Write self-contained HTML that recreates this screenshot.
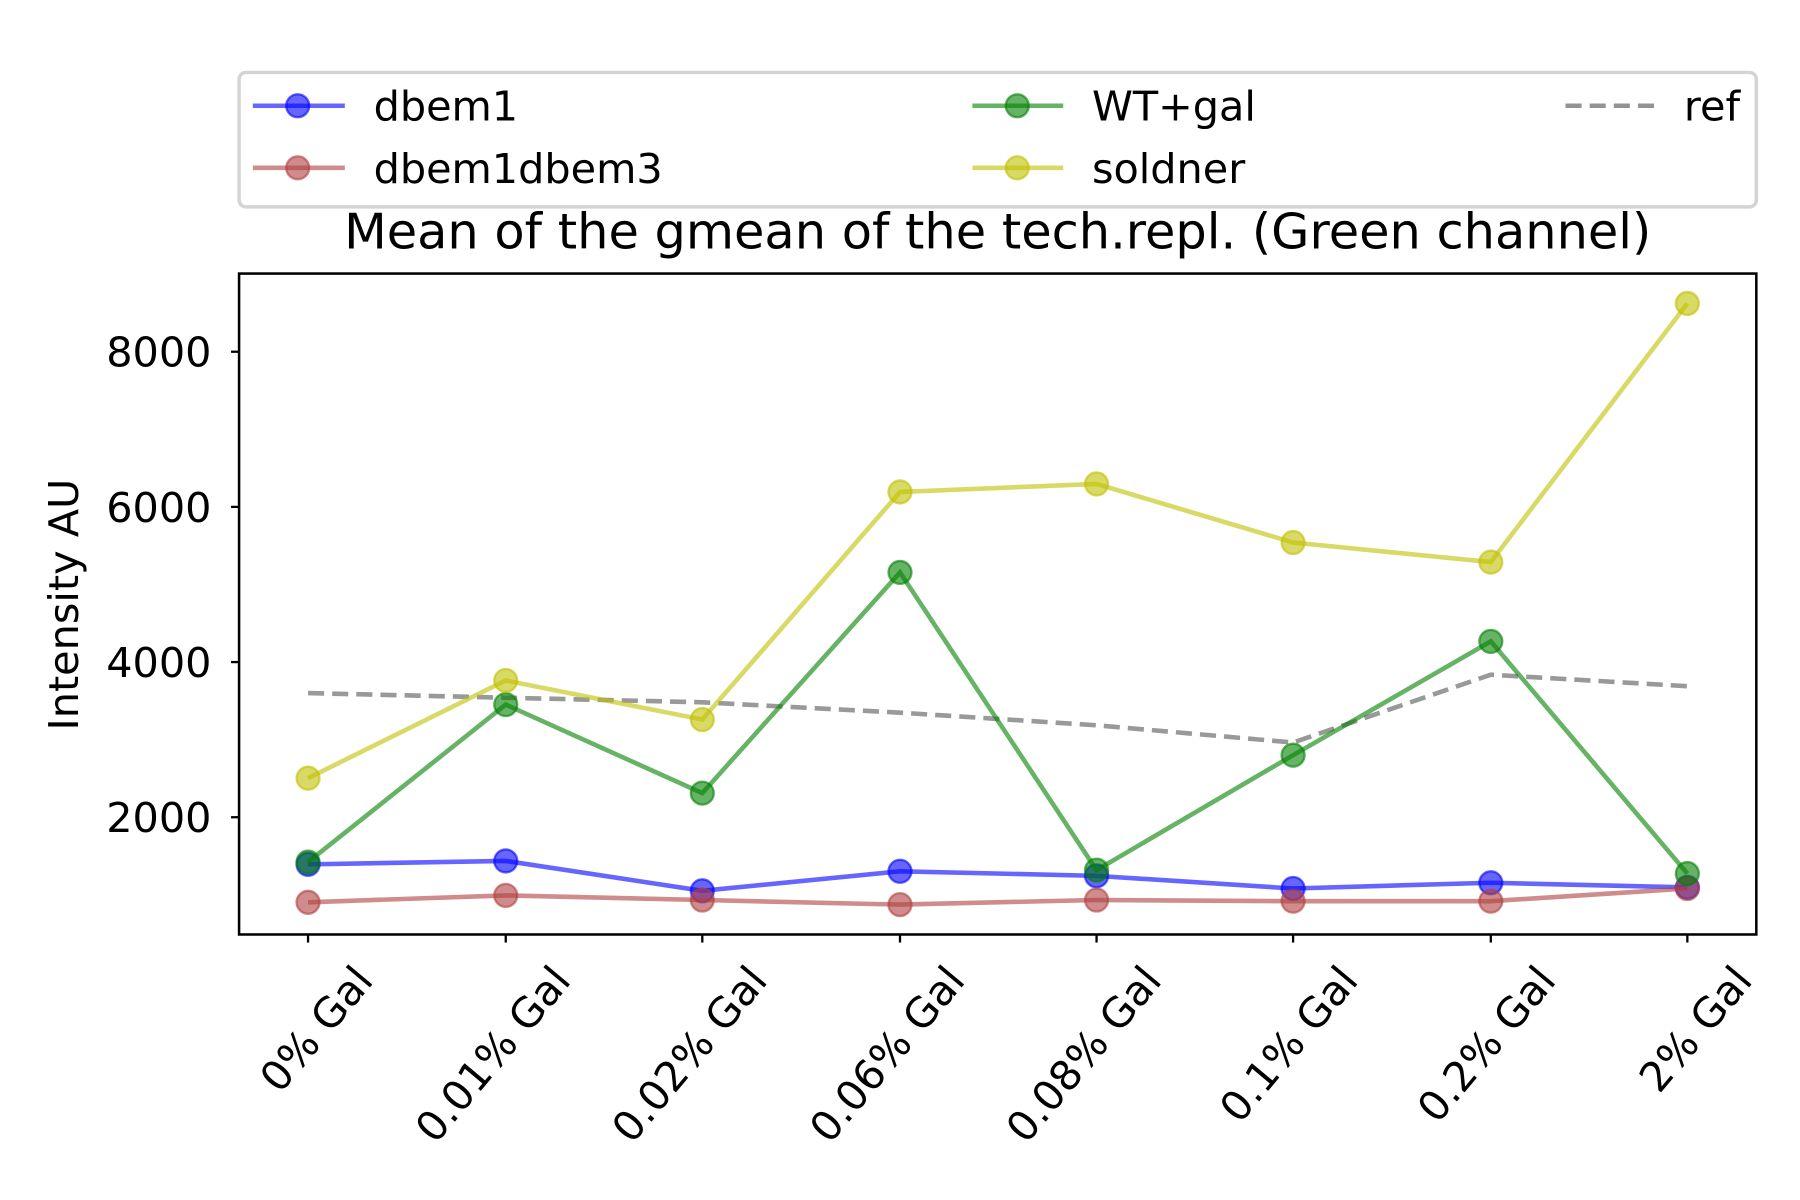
<!DOCTYPE html>
<html><head><style>html,body{margin:0;padding:0;background:#fff}svg{display:block}</style></head>
<body>
<svg width="1800" height="1200" viewBox="0 0 1566 1044" xmlns="http://www.w3.org/2000/svg" font-family="DejaVu Sans, Liberation Sans, sans-serif">
<rect width="1566" height="1044" fill="#fff"/>
<rect x="208" y="63" width="1320" height="117" rx="6" fill="#fff" stroke="#d4d4d4" stroke-width="3"/>
<g stroke-width="4" fill-opacity="0.6" stroke-opacity="0.6">
<line x1="220" y1="92" x2="300" y2="92" stroke="#0000ff"/><circle cx="259" cy="92" r="10" fill="#0000ff" stroke="#0000ff" stroke-width="2"/>
<line x1="220" y1="146" x2="300" y2="146" stroke="#b04040"/><circle cx="259" cy="146" r="10" fill="#b04040" stroke="#b04040" stroke-width="2"/>
<line x1="846" y1="92" x2="925" y2="92" stroke="#008000"/><circle cx="885" cy="92" r="10" fill="#008000" stroke="#008000" stroke-width="2"/>
<line x1="846" y1="146" x2="925" y2="146" stroke="#bfbf00"/><circle cx="885" cy="146" r="10" fill="#bfbf00" stroke="#bfbf00" stroke-width="2"/>
<line x1="1362" y1="92" x2="1440" y2="92" stroke="#808080" stroke-dasharray="14,7" stroke-opacity="0.85"/>
</g>
<g font-size="36" fill="#000">
<text x="325" y="105">dbem1</text>
<text x="325" y="159">dbem1dbem3</text>
<text x="950" y="105">WT+gal</text>
<text x="950" y="159">soldner</text>
<text x="1465" y="105">ref</text>
</g>
<text x="868" y="216" font-size="43" text-anchor="middle">Mean of the gmean of the tech.repl. (Green channel)</text>
<rect x="208" y="238" width="1320" height="575" fill="none" stroke="#000" stroke-width="2.2"/>
<g stroke="#000" stroke-width="2">
<line x1="201" y1="306" x2="208" y2="306"/><line x1="201" y1="441" x2="208" y2="441"/><line x1="201" y1="576" x2="208" y2="576"/><line x1="201" y1="711" x2="208" y2="711"/>
<line x1="268" y1="813" x2="268" y2="820"/><line x1="440" y1="813" x2="440" y2="820"/><line x1="611" y1="813" x2="611" y2="820"/><line x1="783" y1="813" x2="783" y2="820"/><line x1="954" y1="813" x2="954" y2="820"/><line x1="1125" y1="813" x2="1125" y2="820"/><line x1="1297" y1="813" x2="1297" y2="820"/><line x1="1468" y1="813" x2="1468" y2="820"/>
</g>
<g font-size="36" text-anchor="end">
<text x="184" y="319">8000</text><text x="184" y="454">6000</text><text x="184" y="589">4000</text><text x="184" y="724">2000</text>
</g>
<text transform="translate(68,526) rotate(-90)" font-size="36" text-anchor="middle">Intensity AU</text>
<g font-size="36" text-anchor="end">
<text transform="translate(326,854) rotate(-50)">0% Gal</text>
<text transform="translate(498,854) rotate(-50)">0.01% Gal</text>
<text transform="translate(669,854) rotate(-50)">0.02% Gal</text>
<text transform="translate(841,854) rotate(-50)">0.06% Gal</text>
<text transform="translate(1012,854) rotate(-50)">0.08% Gal</text>
<text transform="translate(1183,854) rotate(-50)">0.1% Gal</text>
<text transform="translate(1355,854) rotate(-50)">0.2% Gal</text>
<text transform="translate(1526,854) rotate(-50)">2% Gal</text>
</g>
<polyline points="268,603 440,607 611,611 783,620 954,631 1125,646 1297,587 1468,597" fill="none" stroke="#808080" stroke-opacity="0.8" stroke-width="4" stroke-dasharray="14,7"/>
<g fill-opacity="0.6" stroke-opacity="0.6" stroke-width="4">
<g stroke="#0000ff" fill="#0000ff">
<polyline fill="none" points="268,752 440,749 611,775 783,758 954,762 1125,773 1297,768 1468,772"/>
<g stroke-width="2"><circle cx="268" cy="752" r="10"/><circle cx="440" cy="749" r="10"/><circle cx="611" cy="775" r="10"/><circle cx="783" cy="758" r="10"/><circle cx="954" cy="762" r="10"/><circle cx="1125" cy="773" r="10"/><circle cx="1297" cy="768" r="10"/><circle cx="1468" cy="772" r="10"/></g>
</g>
<g stroke="#b04040" fill="#b04040">
<polyline fill="none" points="268,785 440,779 611,783 783,787 954,783 1125,784 1297,784 1468,773"/>
<g stroke-width="2"><circle cx="268" cy="785" r="10"/><circle cx="440" cy="779" r="10"/><circle cx="611" cy="783" r="10"/><circle cx="783" cy="787" r="10"/><circle cx="954" cy="783" r="10"/><circle cx="1125" cy="784" r="10"/><circle cx="1297" cy="784" r="10"/><circle cx="1468" cy="773" r="10"/></g>
</g>
<g stroke="#008000" fill="#008000">
<polyline fill="none" points="268,750 440,613 611,690 783,498 954,757 1125,657 1297,558 1468,760"/>
<g stroke-width="2"><circle cx="268" cy="750" r="10"/><circle cx="440" cy="613" r="10"/><circle cx="611" cy="690" r="10"/><circle cx="783" cy="498" r="10"/><circle cx="954" cy="757" r="10"/><circle cx="1125" cy="657" r="10"/><circle cx="1297" cy="558" r="10"/><circle cx="1468" cy="760" r="10"/></g>
</g>
<g stroke="#bfbf00" fill="#bfbf00">
<polyline fill="none" points="268,677 440,592 611,626 783,428 954,421 1125,472 1297,489 1468,264"/>
<g stroke-width="2"><circle cx="268" cy="677" r="10"/><circle cx="440" cy="592" r="10"/><circle cx="611" cy="626" r="10"/><circle cx="783" cy="428" r="10"/><circle cx="954" cy="421" r="10"/><circle cx="1125" cy="472" r="10"/><circle cx="1297" cy="489" r="10"/><circle cx="1468" cy="264" r="10"/></g>
</g>
</g>
</svg>
</body></html>
